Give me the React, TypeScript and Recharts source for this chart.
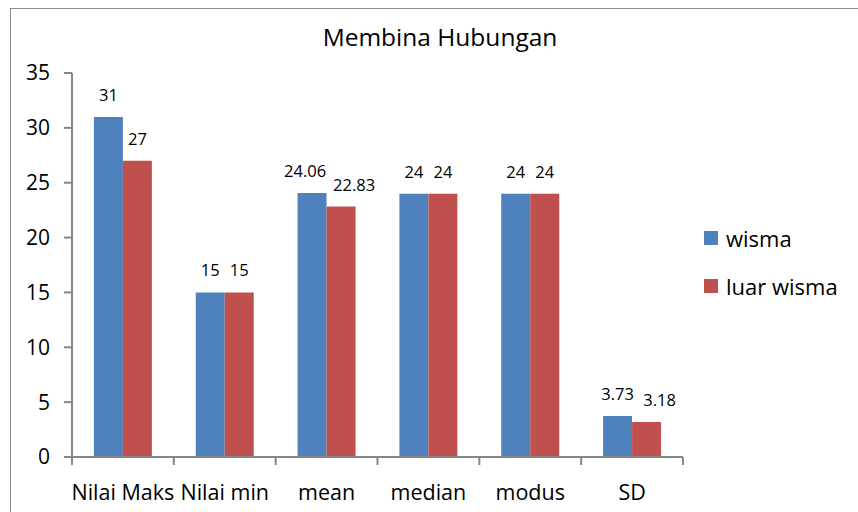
import React from 'react';
import { BarChart, Bar, XAxis, YAxis, LabelList } from 'recharts';

const categories = ['Nilai Maks', 'Nilai min', 'mean', 'median', 'modus', 'SD'];
const wisma = [31, 15, 24.06, 24, 24, 3.73];
const luarWisma = [27, 15, 22.83, 24, 24, 3.18];
const yTicks = [0, 5, 10, 15, 20, 25, 30, 35];

const series = [
  { key: 'wisma', name: 'wisma', color: '#4F81BD' },
  { key: 'luar', name: 'luar wisma', color: '#C0504D' },
];

const data = categories.map((name, i) => ({ name, wisma: wisma[i], luar: luarWisma[i] }));

const W = 858;
const H = 512;
const margin = { top: 73, right: 175, bottom: 15, left: 32 };
const Y_W = 40;
const PLOT_W = W - margin.left - Y_W - margin.right;
const AXIS = '#868686';
const FONT = '"Open Sans", "Noto Sans", sans-serif';

const XTick = (props: any) => {
  const { x, y, payload, index } = props;
  const band = PLOT_W / categories.length;
  const last = index === categories.length - 1;
  return (
    <g>
      <line x1={x - band / 2} x2={x - band / 2} y1={y} y2={y + 8} stroke={AXIS} strokeWidth={2} />
      {last && <line x1={x + band / 2} x2={x + band / 2} y1={y} y2={y + 8} stroke={AXIS} strokeWidth={2} />}
      <text x={x} y={y + 43} textAnchor="middle" fontSize={21.5} fill="#000" fontFamily={FONT}>
        {payload.value}
      </text>
    </g>
  );
};

// labels with decimals are nudged apart so they don't collide, like the original
const makeLabel = (side: 'left' | 'right') => (props: any) => {
  const { x, y, width, value } = props;
  const long = String(value).length > 2;
  let dx = 0;
  if (long && side === 'right') dx = 13;
  if (long && side === 'left' && value > 10) dx = -7;
  return (
    <text x={x + width / 2 + dx} y={y - 16} textAnchor="middle" fontSize={16.5} fill="#000" fontFamily={FONT}>
      {value}
    </text>
  );
};

export default function App() {
  return (
    <div style={{ position: 'absolute', left: 0, top: 0, width: W, height: H, background: '#fff', overflow: 'hidden' }}>
      <div style={{ position: 'absolute', left: 10, top: 8, width: 900, height: 600, border: '1.5px solid #8c8c8c' }} />
      <div style={{ position: 'absolute', left: 0, top: 20, width: 880, textAlign: 'center', fontFamily: FONT, fontSize: 24.5, color: '#000' }}>
        Membina Hubungan
      </div>
      <div style={{ position: 'absolute', left: 704, top: 214, fontFamily: FONT, fontSize: 22, color: '#000' }}>
        {series.map((s) => (
          <div key={s.key} style={{ display: 'flex', alignItems: 'center', height: 48 }}>
            <span style={{ width: 14, height: 14, background: s.color, marginRight: 8 }} />
            {s.name}
          </div>
        ))}
      </div>
      <div style={{ position: 'absolute', left: 0, top: 0 }}>
        <BarChart width={W} height={H} data={data} margin={margin} barGap={0} barCategoryGap="21.5%">
          <XAxis
            dataKey="name"
            height={40}
            axisLine={{ stroke: AXIS, strokeWidth: 2 }}
            tickLine={false}
            tickSize={0}
            tickMargin={0}
            tick={<XTick />}
            interval={0}
          />
          <YAxis
            width={Y_W}
            domain={[0, 35]}
            ticks={yTicks}
            axisLine={{ stroke: AXIS, strokeWidth: 2 }}
            tickLine={{ stroke: AXIS, strokeWidth: 2 }}
            tickSize={8}
            tickMargin={14}
            tick={{ fill: '#000', fontSize: 21, fontFamily: FONT }}
          />
          {series.map((s, i) => (
            <Bar key={s.key} dataKey={s.key} name={s.name} fill={s.color} isAnimationActive={false}>
              <LabelList dataKey={s.key} content={makeLabel(i === 0 ? 'left' : 'right')} />
            </Bar>
          ))}
        </BarChart>
      </div>
    </div>
  );
}
